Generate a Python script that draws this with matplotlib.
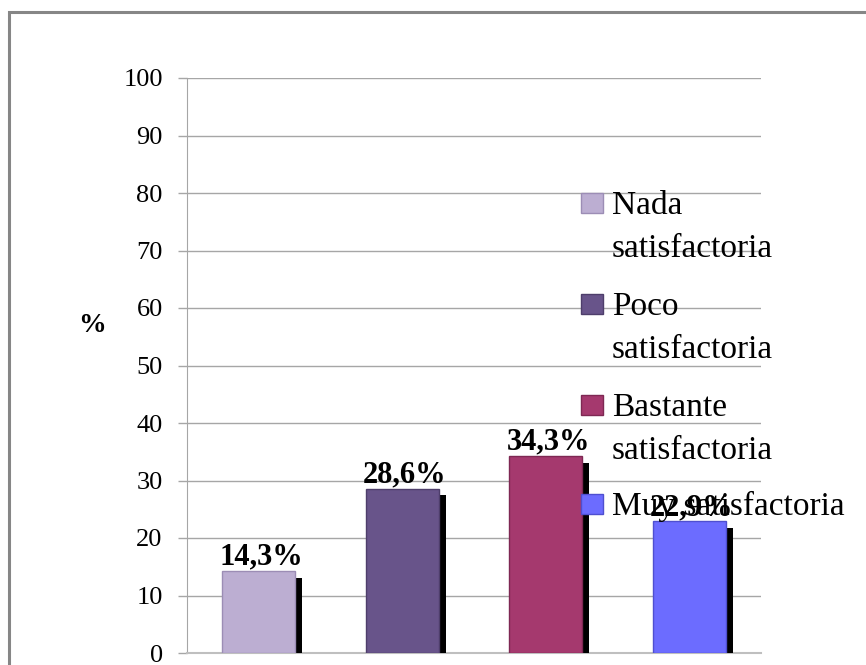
import matplotlib.pyplot as plt
import matplotlib.patheffects as pe
from matplotlib.patches import Rectangle

# datos
categorias = ['Nada\nsatisfactoria', 'Poco\nsatisfactoria', 'Bastante\nsatisfactoria', 'Muy satisfactoria']
valores = [14.3, 28.6, 34.3, 22.9]
etiquetas = ['14,3%', '28,6%', '34,3%', '22,9%']
yticks = [0, 10, 20, 30, 40, 50, 60, 70, 80, 90, 100]

colores = ['#BCAED2', '#68548A', '#A5396E', '#6C6CFF']
bordes = ['#9C8DB5', '#4E3E6B', '#7E2853', '#4F4FD0']

plt.rcParams['font.family'] = ['Liberation Serif', 'DejaVu Serif']

W, H = 866, 665
fig = plt.figure(figsize=(W / 100, H / 100), dpi=100)
ax = fig.add_axes([187 / W, 12 / H, 574 / W, 575 / H])

# barras con sombra negra
x = list(range(len(valores)))
bars = ax.bar(x, valores, width=0.51, color=colores, edgecolor=bordes, linewidth=1, zorder=3)
for b in bars:
    b.set_path_effects([pe.SimplePatchShadow(offset=(5, -5), shadow_rgbFace='black', alpha=1.0),
                        pe.Normal()])

for i, (v, t) in enumerate(zip(valores, etiquetas)):
    ax.annotate(t, (i, v), xytext=(2, 4.5), textcoords='offset points',
                ha='center', va='baseline', fontsize=22, fontweight='bold', zorder=6)

ax.set_xlim(-0.5, 3.5)
ax.set_ylim(0, 100)
ax.set_yticks(yticks)
ax.yaxis.grid(True, color='#A6A6A6', linewidth=1)
ax.set_axisbelow(True)
ax.tick_params(axis='y', length=6.5, width=1, color='#A6A6A6', pad=11, labelsize=19)
ax.tick_params(axis='x', bottom=False, labelbottom=False)
ax.spines['top'].set_visible(False)
ax.spines['right'].set_visible(False)
ax.spines['left'].set_color('#A6A6A6')
ax.spines['bottom'].set_color('#BFBFBF')
ax.spines['bottom'].set_linewidth(1.5)

fig.text(92 / W, 1 - 326 / H, '%', fontsize=20, fontweight='bold', ha='center', va='center')

# leyenda manual (marcador alineado con la primera línea)
bases = [214, 315, 416, 515]
for i, lab in enumerate(categorias):
    b = bases[i]
    fig.patches.append(Rectangle((581 / W, 1 - (b - 1) / H), 22 / W, 20 / H,
                                 transform=fig.transFigure, facecolor=colores[i],
                                 edgecolor=bordes[i], linewidth=1, zorder=4))
    for j, linea in enumerate(lab.split('\n')):
        fig.text(612 / W, 1 - (b + 43 * j) / H, linea, fontsize=24, va='baseline', ha='left', zorder=4)

# marco del gráfico
fig.patches.append(Rectangle((9 / W, -0.1), 1.2, 1.1 - 12 / H, transform=fig.transFigure,
                             fill=False, edgecolor='#868686', linewidth=2.2))

fig.savefig('out.png', dpi=100)
